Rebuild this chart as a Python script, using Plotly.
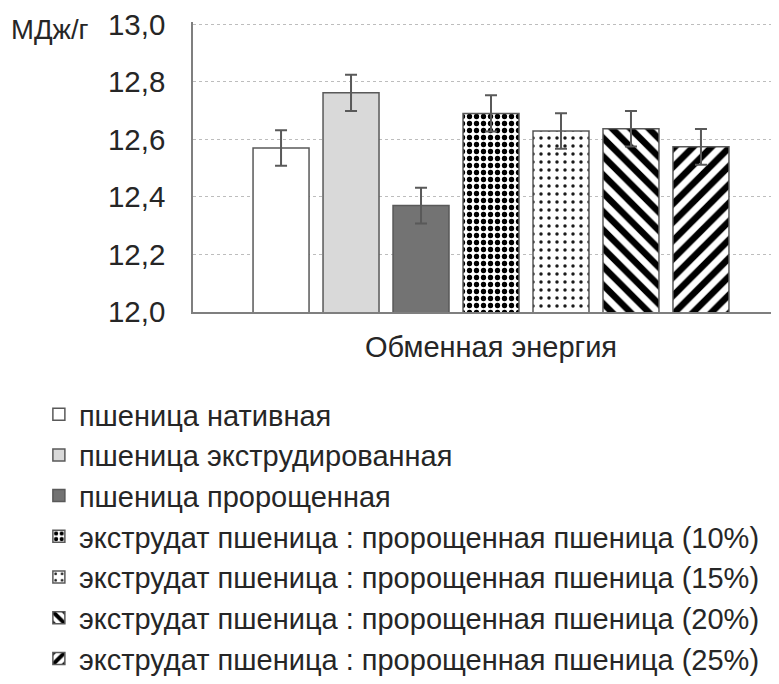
import plotly.graph_objects as go

category = ["Обменная энергия"]
series_names = [
    "пшеница нативная",
    "пшеница экструдированная",
    "пшеница пророщенная",
    "экструдат пшеница : пророщенная пшеница (10%)",
    "экструдат пшеница : пророщенная пшеница (15%)",
    "экструдат пшеница : пророщенная пшеница (20%)",
    "экструдат пшеница : пророщенная пшеница (25%)",
]
values = [12.57, 12.762, 12.37, 12.69, 12.629, 12.637, 12.574]
errors = [0.062, 0.063, 0.062, 0.063, 0.062, 0.062, 0.062]
y_ticks = [12.0, 12.2, 12.4, 12.6, 12.8, 13.0]
y_tick_labels = ["12,0", "12,2", "12,4", "12,6", "12,8", "13,0"]

fills = ["#ffffff", "#d9d9d9", "#737373", "#ffffff", "#ffffff", "#ffffff", "#ffffff"]
patterns = [
    dict(shape=""),
    dict(shape=""),
    dict(shape=""),
    dict(shape=".", size=7, solidity=0.45, fgcolor="#000000", fgopacity=1, fillmode="overlay"),
    dict(shape=".", size=8, solidity=0.15, fgcolor="#1a1a1a", fgopacity=1, fillmode="overlay"),
    dict(shape="\\", size=13, solidity=0.5, fgcolor="#000000", fgopacity=1, fillmode="overlay"),
    dict(shape="/", size=13, solidity=0.5, fgcolor="#000000", fgopacity=1, fillmode="overlay"),
]

FONT = "Liberation Sans, Arial, sans-serif"
TXT = "#262626"

fig = go.Figure()
for name, v, e, fc, pat in zip(series_names, values, errors, fills, patterns):
    fig.add_trace(go.Bar(
        x=category, y=[v], name=name,
        marker=dict(color=fc, line=dict(color="#595959", width=1.5), pattern=pat),
        error_y=dict(type="data", array=[e], visible=True, color="#595959", thickness=2, width=6),
    ))

fig.update_layout(
    width=771, height=684,
    margin=dict(l=185, r=0, t=12, b=380),
    paper_bgcolor="#ffffff", plot_bgcolor="#ffffff",
    barmode="group", bargap=0.178, bargroupgap=0.2,
    font=dict(family=FONT, size=29, color=TXT),
    showlegend=True,
    legend=dict(
        x=-0.263, xanchor="left", y=-0.265, yanchor="top",
        font=dict(family=FONT, size=29, color=TXT),
        bgcolor="rgba(0,0,0,0)", traceorder="normal",
    ),
    xaxis=dict(
        range=[-0.5, 0.4832], showgrid=False, showline=True, linecolor="#7f7f7f", linewidth=2,
        ticks="", tickfont=dict(family=FONT, size=29, color=TXT), ticklabelstandoff=8,
    ),
    yaxis=dict(
        range=[12, 13.008], tickvals=y_ticks, ticktext=y_tick_labels, showgrid=True,
        gridcolor="#bdbdbd", griddash="dot", gridwidth=1, showline=True,
        linecolor="#7f7f7f", linewidth=1.5, ticklabeloverflow="allow",
        ticks="", tickfont=dict(family=FONT, size=29.5, color=TXT), ticklabelstandoff=20,
        zeroline=False,
    ),
    annotations=[dict(
        text="МДж/г", xref="paper", yref="y", x=-0.3135, y=13.0, xanchor="left", yanchor="middle",
        yshift=-5, showarrow=False, font=dict(family=FONT, size=27.5, color=TXT),
    )],
)

fig.write_html("out.html")
